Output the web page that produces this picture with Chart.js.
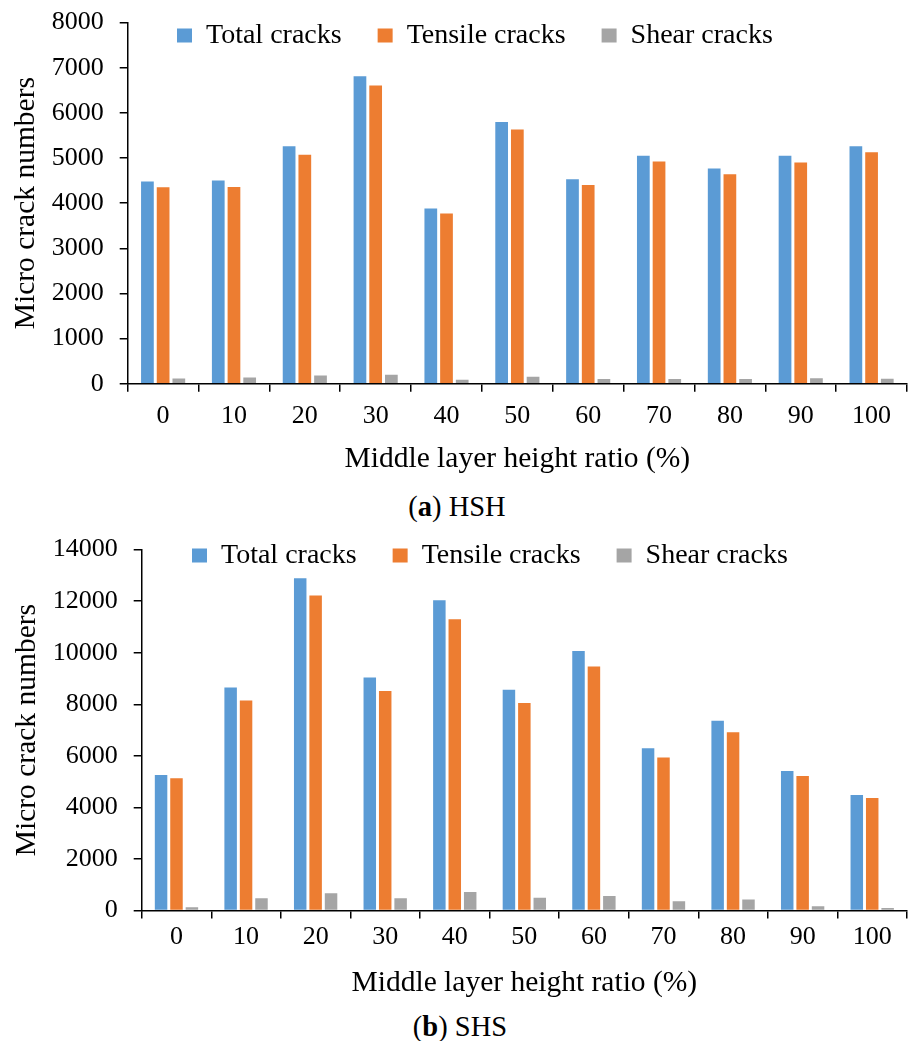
<!DOCTYPE html>
<html>
<head>
<meta charset="utf-8">
<script src="https://cdn.jsdelivr.net/npm/chart.js@4.4.1/dist/chart.umd.min.js"></script>
<style>
    body { margin: 0; background: #fff; }
    #page { position: relative; width: 908px; height: 1041px; background: #fff; overflow: hidden; }
    canvas { position: absolute; left: 0; }
    .caption {
        position: absolute; left: 0; width: 914px; text-align: center;
        font-family: "Liberation Serif", serif; font-size: 28.5px; line-height: 32px; color: #000;
    }
</style>
</head>
<body>
<div id="page">
    <div class="caption" style="top:491px">(<b>a</b>) HSH</div>
    <div class="caption" style="top:1011px; width:920px">(<b>b</b>) SHS</div>
    <canvas id="chartA" width="908" height="490" style="top:-9px"></canvas>
    <canvas id="chartB" width="908" height="487" style="top:518px"></canvas>
</div>
<script>
// Data
const ratios = ['0', '10', '20', '30', '40', '50', '60', '70', '80', '90', '100'];
const seriesNames = ['Total cracks', 'Tensile cracks', 'Shear cracks'];

// (a) HSH
const totalHSH   = [4480, 4500, 5260, 6810, 3880, 5800, 4530, 5050, 4770, 5050, 5260];
const tensileHSH = [4350, 4360, 5070, 6605, 3770, 5630, 4400, 4920, 4640, 4900, 5125];
const shearHSH   = [115, 135, 180, 200, 90, 155, 105, 105, 105, 120, 110];

// (b) SHS
const totalSHS   = [5260, 8650, 12890, 9040, 12040, 8560, 10070, 6300, 7360, 5410, 4480];
const tensileSHS = [5130, 8150, 12220, 8520, 11300, 8050, 9470, 5940, 6920, 5220, 4370];
const shearSHS   = [130, 480, 670, 480, 720, 500, 570, 360, 430, 170, 105];

const colors = ['#5B9BD5', '#ED7D31', '#A5A5A5'];
const FONT = 'Liberation Serif';

// the legend sits inside the plot in the original, so place it relative to the plot area
const legendNudge = {
    id: 'legendNudge',
    afterLayout(chart, args, opts) {
        const lg = chart.legend;
        if (!lg) return;
        lg.left = chart.chartArea.left + (opts.dx || 0);
        lg.top = chart.chartArea.top + (opts.dy || 0);
        lg.bottom = lg.top + 120;
    }
};

function makeChart(id, values, yMax, yStep, cfg) {
    const ctx = document.getElementById(id).getContext('2d');
    return new Chart(ctx, {
        type: 'bar',
        data: {
            labels: ratios,
            datasets: values.map((v, i) => ({
                label: seriesNames[i],
                data: v,
                backgroundColor: colors[i],
                borderWidth: 0,
                categoryPercentage: 0.665,
                barPercentage: 0.81
            }))
        },
        options: {
            responsive: false,
            animation: false,
            devicePixelRatio: 1,
            layout: { padding: { top: 13, left: 4, right: 1, bottom: 0 } },
            plugins: {
                legend: {
                    position: 'top',
                    align: 'start',
                    maxHeight: 1,
                    labels: {
                        boxWidth: 15,
                        boxHeight: 14,
                        padding: 36,
                        color: '#000',
                        font: { family: FONT, size: 28 }
                    }
                },
                legendNudge: { dx: cfg.dx, dy: cfg.dy },
                tooltip: { enabled: false }
            },
            scales: {
                x: {
                    grid: {
                        display: true,
                        drawOnChartArea: false,
                        drawTicks: true,
                        tickLength: 8,
                        color: '#000',
                        lineWidth: 1.5
                    },
                    border: { display: true, color: '#000', width: 1.5 },
                    ticks: { color: '#000', padding: cfg.xPad, font: { family: FONT, size: 26 } },
                    title: {
                        display: true,
                        text: 'Middle layer height ratio (%)',
                        color: '#000',
                        font: { family: FONT, size: 29.5 },
                        padding: { top: cfg.xTitleTop, bottom: 4 }
                    }
                },
                y: {
                    min: 0,
                    max: yMax,
                    grid: {
                        display: true,
                        drawOnChartArea: false,
                        drawTicks: true,
                        tickLength: 8,
                        color: '#000',
                        lineWidth: 1.5
                    },
                    border: { display: true, color: '#000', width: 1.5 },
                    ticks: {
                        stepSize: yStep,
                        color: '#000',
                        padding: 16,
                        font: { family: FONT, size: 26 },
                        callback: v => String(v)
                    },
                    title: {
                        display: true,
                        text: 'Micro crack numbers',
                        color: '#000',
                        font: { family: FONT, size: 29.5 },
                        padding: { top: cfg.yTitleTop, bottom: -8.7 }
                    }
                }
            }
        },
        plugins: [legendNudge]
    });
}

makeChart('chartA', [totalHSH, tensileHSH, shearHSH], 8000, 1000,
    { dx: 13.3, dy: -37, xPad: 8.6, xTitleTop: 1.5, yTitleTop: 5 });
makeChart('chartB', [totalSHS, tensileSHS, shearSHS], 14000, 2000,
    { dx: 14.3, dy: -44, xPad: 3.4, xTitleTop: 9, yTitleTop: 6 });
</script>
</body>
</html>
